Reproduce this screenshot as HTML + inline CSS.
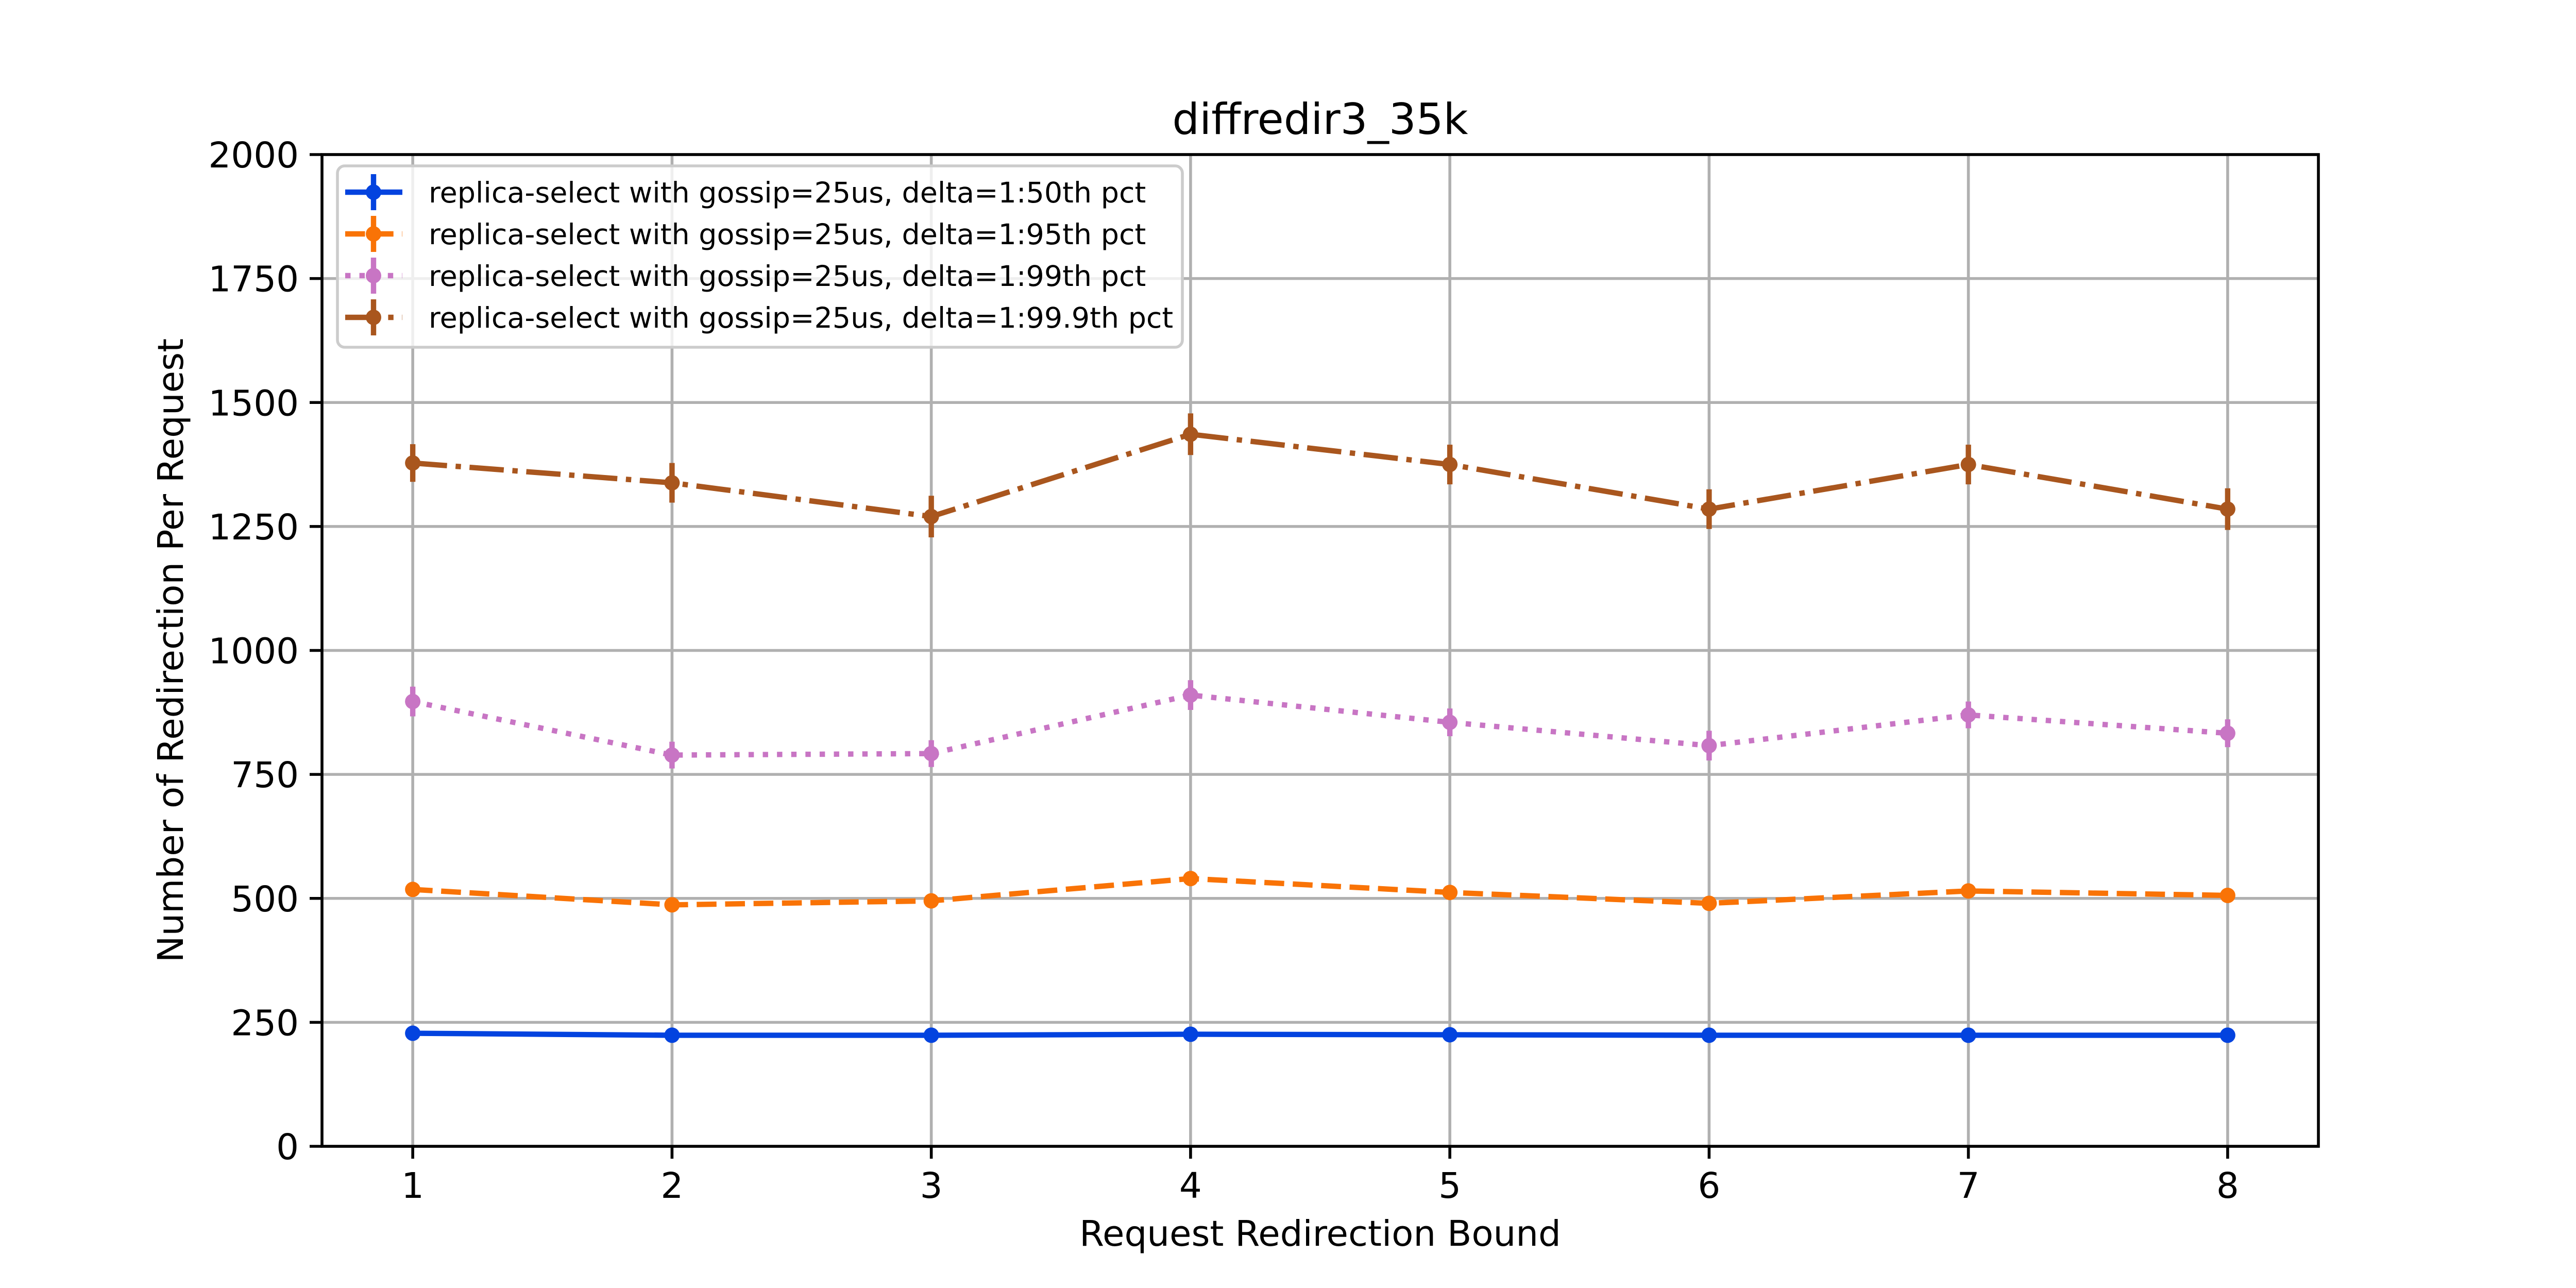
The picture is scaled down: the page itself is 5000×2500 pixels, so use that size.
<!DOCTYPE html>
<html><head><meta charset="utf-8"><style>html,body{margin:0;padding:0;background:#fff}svg{display:block}</style></head>
<body>
<svg id="chart" xmlns="http://www.w3.org/2000/svg" width="5000" height="2500" viewBox="0 0 5000 2500" font-family="'DejaVu Sans','Liberation Sans',sans-serif">
<rect width="5000" height="2500" fill="#fff"/>
<g id="grid"></g><g id="series"></g><g id="axes"></g><g id="legend"></g>
</svg>
<script>
const categories = [1,2,3,4,5,6,7,8];
const yTicks = [0,250,500,750,1000,1250,1500,1750,2000];
const s50 = [228,224,224,226,225,224,224,224];
const e50 = [6,6,6,6,6,6,6,6];
const s95 = [518,487,495,540,512,490,515,506];
const e95 = [12,12,12,14,12,12,12,12];
const s99 = [897,789,792,910,855,808,870,833];
const e99 = [30,27,27,30,28,30,27,28];
const s999 = [1378,1338,1270,1436,1375,1285,1375,1285];
const e999 = [38,40,42,42,40,40,40,42];
const labels = ["replica-select with gossip=25us, delta=1:50th pct","replica-select with gossip=25us, delta=1:95th pct","replica-select with gossip=25us, delta=1:99th pct","replica-select with gossip=25us, delta=1:99.9th pct"];

const NS="http://www.w3.org/2000/svg";
const L=625,R=4500,T=300,B=2225;
const xmin=0.65,xmax=8.35,ymin=0,ymax=2000;
const X=v=>L+(v-xmin)/(xmax-xmin)*(R-L);
const Y=v=>B-(v-ymin)/(ymax-ymin)*(B-T);
function mk(tag,attrs,parent){const e=document.createElementNS(NS,tag);for(const k in attrs)e.setAttribute(k,attrs[k]);parent.appendChild(e);return e;}
const grid=document.getElementById('grid'),axes=document.getElementById('axes'),ser=document.getElementById('series'),leg=document.getElementById('legend');

categories.forEach(c=>{
  const g=mk('line',{x1:X(c),x2:X(c),y1:T,y2:B,stroke:'#b0b0b0','stroke-width':5.6},grid);
  
  
  mk('line',{x1:X(c),x2:X(c),y1:B,y2:B+24,stroke:'#000','stroke-width':5.6},axes);
  const t=mk('text',{x:X(c),y:B+100,'font-size':69,'text-anchor':'middle',fill:'#000'},axes);
  t.textContent=c;
  
  
});
yTicks.forEach(v=>{
  const g=mk('line',{x1:L,x2:R,y1:Y(v),y2:Y(v),stroke:'#b0b0b0','stroke-width':5.6},grid);
  
  
  mk('line',{x1:L-24,x2:L,y1:Y(v),y2:Y(v),stroke:'#000','stroke-width':5.6},axes);
  const t=mk('text',{x:L-45,y:Y(v)+25,'font-size':69,'text-anchor':'end',fill:'#000'},axes);
  t.textContent=v;
  
  
});
const frame=mk('rect',{x:L,y:T,width:R-L,height:B-T,fill:'none',stroke:'#000','stroke-width':5.6},axes);


const title=mk('text',{x:(L+R)/2,y:T-40,'font-size':83,'text-anchor':'middle'},axes);
title.textContent='diffredir3_35k';


const xt=mk('text',{x:(L+R)/2,y:2418,'font-size':69,'text-anchor':'middle'},axes);
xt.textContent='Request Redirection Bound';


const yt=mk('text',{x:0,y:0,'font-size':69,'text-anchor':'middle',transform:'translate(355,'+((T+B)/2)+') rotate(-90)'},axes);
yt.textContent='Number of Redirection Per Request';



const series=[
 {v:s50,e:e50,c:'#0343df',d:'',n:'series-50th'},
 {v:s95,e:e95,c:'#f97306',d:'38.5,16.7',n:'series-95th'},
 {v:s99,e:e99,c:'#c875c4',d:'10.4,17.2',n:'series-99th'},
 {v:s999,e:e999,c:'#a9561e',d:'66.7,16.7,10.4,16.7',n:'series-99-9th'}];
series.forEach((s,i)=>{
  const g=mk('g',{},ser);
  
  
  const pts=categories.map((c,j)=>X(c)+','+Y(s.v[j])).join(' ');
  const pl=mk('polyline',{points:pts,fill:'none',stroke:s.c,'stroke-width':10.4,'stroke-dasharray':s.d||'none'},g);
  
  
  categories.forEach((c,j)=>{
    const eb=mk('line',{x1:X(c),x2:X(c),y1:Y(s.v[j]-s.e[j]),y2:Y(s.v[j]+s.e[j]),stroke:s.c,'stroke-width':10.4},g);
    
    
    const p=mk('circle',{cx:X(c),cy:Y(s.v[j]),r:15,fill:s.c},g);
    
    
  });
  const ly=373+i*81;
  const lg=mk('g',{},leg);
  
  
  mk('line',{x1:670,x2:781,y1:ly,y2:ly,stroke:s.c,'stroke-width':10.4,'stroke-dasharray':s.d||'none'},lg);
  mk('line',{x1:725,x2:725,y1:ly-35,y2:ly+35,stroke:s.c,'stroke-width':10.4},lg);
  mk('circle',{cx:725,cy:ly,r:15,fill:s.c},lg);
  const t=mk('text',{x:832,y:ly+20,'font-size':55.5},lg);
  t.textContent=labels[i];
});
const box=mk('rect',{x:655,y:322,width:1640,height:352,rx:14,fill:'#fff','fill-opacity':0.8,stroke:'#cccccc','stroke-width':5.6},leg);


leg.insertBefore(box,leg.firstChild);
</script>
</body></html>
